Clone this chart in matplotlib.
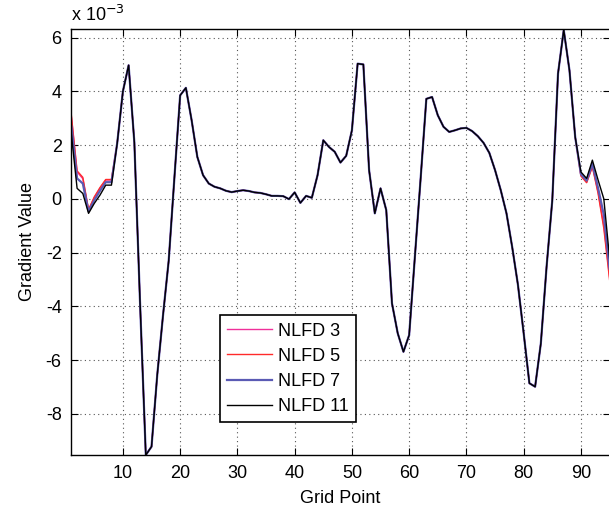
import numpy as np
import matplotlib.pyplot as plt

plt.rcParams['font.family'] = ['Liberation Sans', 'DejaVu Sans']

# gradient values, units of 1e-3, grid points 1..95
# shared middle section (points 9..88), all four schemes overlap here
mid = [2.06, 4.0, 4.97, 2.1, -3.9, -9.53, -9.22, -6.55, -4.35, -2.3,
       0.8, 3.85, 4.13, 2.93, 1.56, 0.88, 0.57, 0.45, 0.39, 0.30,
       0.25, 0.29, 0.32, 0.29, 0.24, 0.22, 0.17, 0.11, 0.11, 0.10,
       -0.01, 0.24, -0.15, 0.11, 0.04, 0.88, 2.18, 1.93, 1.75, 1.35,
       1.6, 2.55, 5.03, 5.0, 1.07, -0.54, 0.39, -0.42, -3.89, -5.0,
       -5.69, -5.07, -2.15, 0.75, 3.72, 3.79, 3.11, 2.68, 2.49, 2.55,
       2.62, 2.64, 2.52, 2.33, 2.08, 1.71, 1.07, 0.32, -0.54, -1.8,
       -3.2, -5.0, -6.86, -6.99, -5.38, -2.53, -0.05, 4.66, 6.28, 4.78]

head3 = [3.05, 1.0, 0.75, -0.42, 0.05, 0.4, 0.7, 0.7]
tail3 = [2.3, 0.87, 0.62, 1.22, 0.25, -1.0, -2.9]
head5 = [3.1, 1.04, 0.8, -0.4, 0.07, 0.42, 0.72, 0.72]
tail5 = [2.3, 0.85, 0.6, 1.19, 0.2, -1.1, -3.0]
head7 = [2.7, 0.76, 0.57, -0.47, -0.05, 0.3, 0.62, 0.62]
tail7 = [2.3, 0.92, 0.68, 1.3, 0.4, -0.6, -2.6]
head11 = [2.4, 0.39, 0.2, -0.54, -0.17, 0.14, 0.51, 0.51]
tail11 = [2.3, 1.0, 0.76, 1.44, 0.7, 0.0, -2.2]

labels = ['NLFD 3', 'NLFD 5', 'NLFD 7', 'NLFD 11']
colors = ['#f0309a', '#ff2a2a', '#5a5ab4', 'black']
widths = [1.0, 1.0, 1.6, 1.0]

series = [head3 + mid + tail3, head5 + mid + tail5,
          head7 + mid + tail7, head11 + mid + tail11]
x = np.arange(1, len(series[0]) + 1)

fig = plt.figure(figsize=(6.09, 5.13), dpi=100)
ax = fig.add_axes([0.1172, 0.1131, 0.8837, 0.8304])

for y, lab, c, w in zip(series, labels, colors, widths):
    ax.plot(x, np.array(y) * 1e-3, color=c, lw=w, label=lab)

ax.set_xlim(1, 95)
ax.set_ylim(-9.53e-3, 6.32e-3)
ax.set_xticks(np.arange(10, 91, 10))
ax.set_yticks(np.arange(-8, 7, 2) * 1e-3)
ax.yaxis.set_major_formatter(plt.FuncFormatter(lambda v, p: '%g' % round(v * 1e3, 6)))
ax.grid(True, linestyle=(0, (1, 3)), color='#555555', lw=0.8)
ax.tick_params(direction='in', length=5, width=0.8, top=True, right=True,
               labelsize=13, pad=7)
for s in ax.spines.values():
    s.set_linewidth(1.0)

ax.text(0, 1.01, 'x 10$^{-3}$', transform=ax.transAxes, fontsize=13,
        ha='left', va='bottom')

ax.set_xlabel('Grid Point', fontsize=13, labelpad=6)
ax.set_ylabel('Gradient Value', fontsize=13, labelpad=7)

leg = ax.legend(loc='lower left', bbox_to_anchor=(0.276, 0.077),
                fontsize=13, fancybox=False, framealpha=1, edgecolor='black',
                handlelength=2.5, labelspacing=0.45, borderpad=0.4,
                handletextpad=0.3, borderaxespad=0)
leg.get_frame().set_linewidth(1.2)

fig.savefig('out.png', dpi=100)
